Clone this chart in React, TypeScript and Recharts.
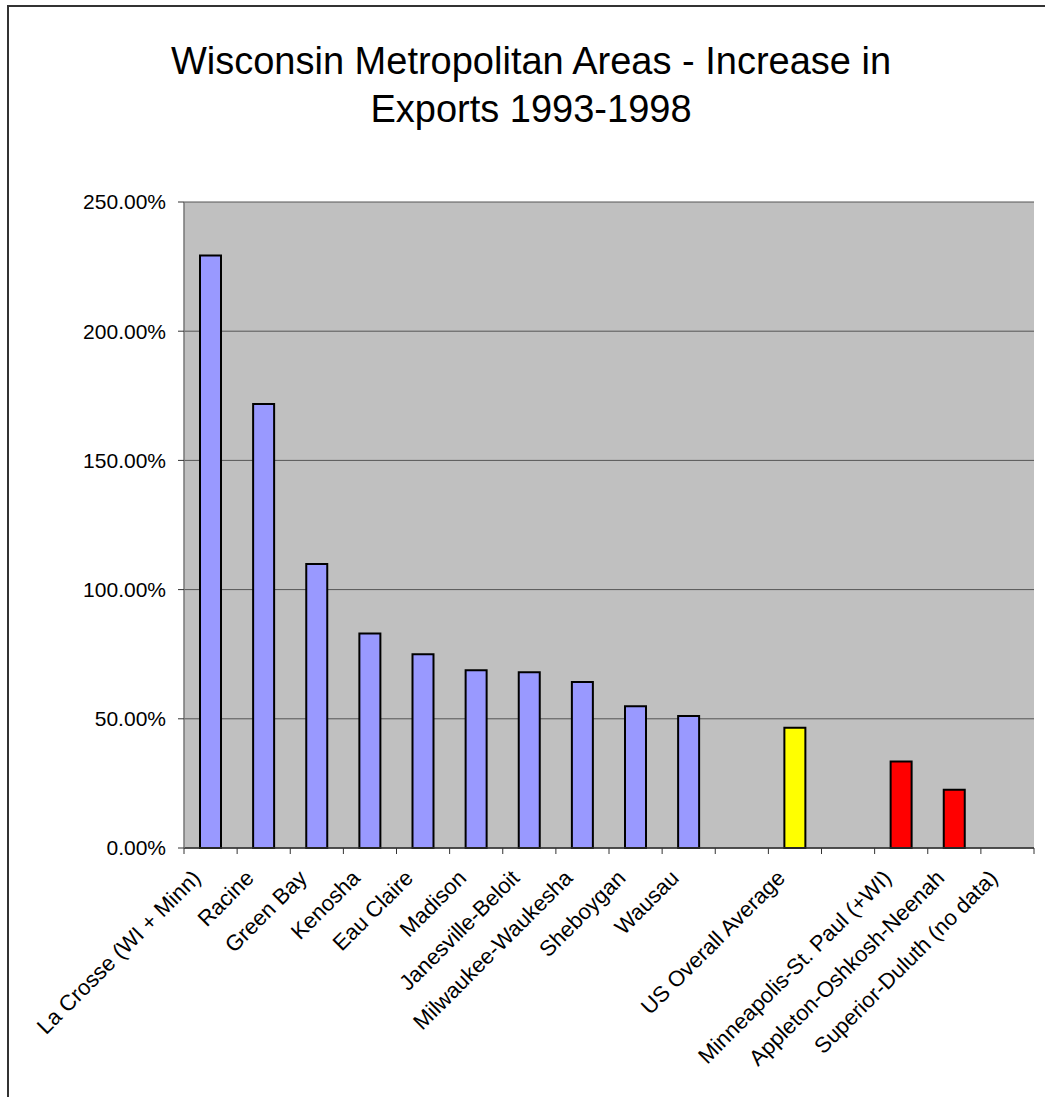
import React from 'react';
import { BarChart, Bar, XAxis, YAxis, CartesianGrid, Cell } from 'recharts';

const categories = [
  'La Crosse (WI + Minn)',
  'Racine',
  'Green Bay',
  'Kenosha',
  'Eau Claire',
  'Madison',
  'Janesville-Beloit',
  'Milwaukee-Waukesha',
  'Sheboygan',
  'Wausau',
  '',
  'US Overall Average',
  '',
  'Minneapolis-St. Paul (+WI)',
  'Appleton-Oshkosh-Neenah',
  'Superior-Duluth (no data)',
];

const increase: (number | null)[] = [
  2.293, 1.718, 1.099, 0.830, 0.750, 0.688, 0.680, 0.642, 0.549, 0.511, null, 0.465, null, 0.335, 0.225, null,
];

const groups = [
  'wi', 'wi', 'wi', 'wi', 'wi', 'wi', 'wi', 'wi', 'wi', 'wi', 'gap', 'us', 'gap', 'border', 'border', 'border',
];

const yTicks = [0, 0.5, 1, 1.5, 2, 2.5];

const titleLines = ['Wisconsin Metropolitan Areas - Increase in', 'Exports 1993-1998'];

const groupColor: Record<string, string> = {
  wi: '#9999FF',
  us: '#FFFF00',
  border: '#FF0000',
  gap: '#FFFFFF',
};

const data = categories.map((name, i) => ({ name, value: increase[i], group: groups[i] }));

const W = 1045;
const H = 1097;
const LEFT = 184;
const RIGHT = 11;
const PLOT_W = W - LEFT - RIGHT;
const FONT = '"Liberation Sans", Arial, sans-serif';

const XTick = (props: any) => {
  const { x, y, payload, index } = props;
  const half = PLOT_W / categories.length / 2;
  const lx = x - 14;
  const ly = y + 26;
  return (
    <g>
      <line x1={x - half} y1={y} x2={x - half} y2={y + 6} stroke="#333" strokeWidth={1} />
      {index === categories.length - 1 && (
        <line x1={x + half} y1={y} x2={x + half} y2={y + 6} stroke="#333" strokeWidth={1} />
      )}
      <text
        x={lx}
        y={ly}
        dy="0.35em"
        textAnchor="end"
        transform={`rotate(-45 ${lx} ${ly})`}
        fontSize={22}
        fontFamily={FONT}
        fill="#000"
      >
        {payload.value}
      </text>
    </g>
  );
};

export default function App() {
  return (
    <div
      style={{
        position: 'fixed',
        left: 0,
        top: 0,
        width: W,
        height: H,
        overflow: 'hidden',
        background: '#fff',
      }}
    >
      <div
        style={{
          position: 'absolute',
          left: 7,
          top: 5,
          width: 1200,
          height: 1300,
          border: '2px solid #333',
          boxSizing: 'border-box',
        }}
      />
      <div style={{ position: 'absolute', left: 0, top: 0 }}>
        <BarChart
          width={W}
          height={H}
          data={data}
          margin={{ top: 202, right: RIGHT, bottom: 49, left: 0 }}
        >
          <CartesianGrid
            vertical={false}
            fill="#C0C0C0"
            fillOpacity={1}
            stroke="#555"
            strokeWidth={1}
          />
          <XAxis
            dataKey="name"
            height={200}
            interval={0}
            tickLine={false}
            tickSize={0}
            tickMargin={0}
            axisLine={{ stroke: '#333', strokeWidth: 1.5 }}
            tick={<XTick />}
          />
          <YAxis
            width={LEFT}
            domain={[0, 2.5]}
            ticks={yTicks}
            interval={0}
            tickSize={6}
            tickMargin={12}
            tickLine={{ stroke: '#333' }}
            axisLine={{ stroke: '#777', strokeWidth: 1.5 }}
            tickFormatter={(v: number) => (v * 100).toFixed(2) + '%'}
            tick={{ fontSize: 21, fontFamily: FONT, fill: '#000' }}
          />
          <YAxis
            yAxisId="right"
            orientation="right"
            width={0}
            tick={false}
            tickLine={false}
            axisLine={{ stroke: '#808080', strokeWidth: 1.5 }}
          />
          <Bar dataKey="value" barSize={21} stroke="#000" strokeWidth={2} isAnimationActive={false}>
            {data.map((d, i) => (
              <Cell key={i} fill={groupColor[d.group]} />
            ))}
          </Bar>
        </BarChart>
      </div>
      <svg
        width={W}
        height={140}
        style={{ position: 'absolute', left: 0, top: 0, pointerEvents: 'none' }}
      >
        {titleLines.map((t, i) => (
          <text
            key={i}
            x={531}
            y={74 + i * 48}
            textAnchor="middle"
            fontSize={38}
            fontFamily={FONT}
            fill="#000"
          >
            {t}
          </text>
        ))}
      </svg>
    </div>
  );
}
